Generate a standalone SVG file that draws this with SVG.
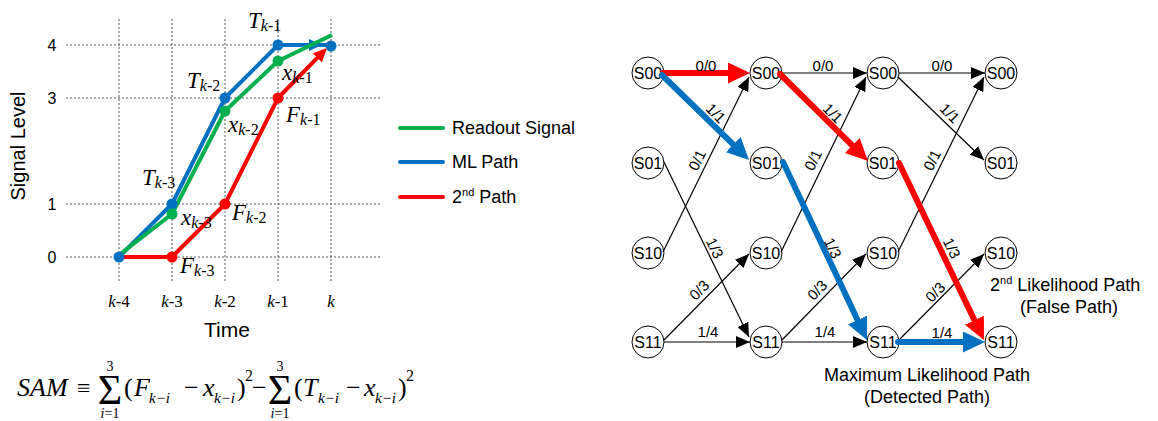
<svg xmlns="http://www.w3.org/2000/svg" width="1158" height="421" viewBox="0 0 1158 421">
<style>
.grid{stroke:#555;stroke-width:1;stroke-dasharray:2 2;fill:none}
.sans{font-family:"Liberation Sans",Arial,sans-serif;fill:#000}
.serif{font-family:"Liberation Serif","Times New Roman",serif;fill:#000}
.it{font-style:italic}
.node circle{fill:#fff;stroke:#000;stroke-width:1}
.node text{font-family:"Liberation Sans",Arial,sans-serif;font-size:16px;text-anchor:middle}
.thin{stroke:#000;stroke-width:1.2;fill:none;marker-end:url(#ah)}
.tr{stroke:#FF0000;stroke-width:6;fill:none;stroke-linecap:round;marker-end:url(#ahr)}
.tb{stroke:#0070C0;stroke-width:6;fill:none;stroke-linecap:round;marker-end:url(#ahb)}
.el{font-family:"Liberation Sans",Arial,sans-serif;font-size:15px;text-anchor:middle;dominant-baseline:central}
.gl{stroke:#00B050;stroke-width:4;fill:none;stroke-linejoin:round}
.bl{stroke:#0070C0;stroke-width:4;fill:none;stroke-linejoin:round}
.rl{stroke:#FF0000;stroke-width:4;fill:none;stroke-linejoin:round}
.sig{font-size:42px;text-anchor:middle}
.lim{font-size:14px;text-anchor:middle}
.m{font-size:26px}
.sb{font-size:15px;font-style:italic}
</style>
<defs>
<marker id="ah" markerUnits="userSpaceOnUse" markerWidth="14" markerHeight="12" refX="14" refY="6" orient="auto"><path d="M0,0 L14,6 L0,12 z" fill="#000"/></marker>
<marker id="ahr" markerUnits="userSpaceOnUse" markerWidth="22" markerHeight="21" refX="8" refY="10.5" orient="auto"><path d="M0,0 L22,10.5 L0,21 z" fill="#FF0000"/></marker>
<marker id="ahb" markerUnits="userSpaceOnUse" markerWidth="22" markerHeight="21" refX="8" refY="10.5" orient="auto"><path d="M0,0 L22,10.5 L0,21 z" fill="#0070C0"/></marker>
<marker id="ahc" markerUnits="userSpaceOnUse" markerWidth="14" markerHeight="13" refX="5" refY="6.5" orient="auto"><path d="M0,0 L14,6.5 L0,13 z" fill="#FF0000"/></marker>
</defs>
<rect width="1158" height="421" fill="#fff"/>

<g id="chart">
<g class="grid">
<path d="M119,19V283M172,19V283M225,19V283M278,19V283M331,19V283"/>
<path d="M66,45H381M66,98H381M66,204H381M66,257H381"/>
</g>
<g class="sans" font-size="16" text-anchor="middle">
<text x="52" y="51">4</text>
<text x="52" y="104">3</text>
<text x="52" y="210">1</text>
<text x="52" y="263">0</text>
</g>
<text class="sans" font-size="20" text-anchor="middle" transform="translate(25,146) rotate(-90)">Signal Level</text>
<text class="sans" font-size="21" text-anchor="middle" x="227" y="337">Time</text>
<g class="serif" font-size="17" text-anchor="middle">
<text x="119" y="307"><tspan class="it">k</tspan>-4</text>
<text x="172" y="307"><tspan class="it">k</tspan>-3</text>
<text x="225" y="307"><tspan class="it">k</tspan>-2</text>
<text x="278" y="307"><tspan class="it">k</tspan>-1</text>
<text x="331" y="307" class="it">k</text>
</g>
<path class="rl" d="M119,257 L172,257 L225,204 L278,98 L320.7,54.4" marker-end="url(#ahc)"/>
<path class="bl" d="M119,257 L172,204 L225,98 L278,45 L331,45"/>
<polygon points="322,45 309,39 309,51" fill="#0070C0"/>
<path class="gl" d="M119,255 L172,214 L225,111 L278,61 L332,35"/>
<g fill="#FF0000"><circle cx="172" cy="257" r="5.5"/><circle cx="225" cy="204" r="5.5"/><circle cx="278" cy="98" r="5.5"/></g>
<g fill="#0070C0"><circle cx="119" cy="257" r="5.5"/><circle cx="172" cy="204" r="5.5"/><circle cx="225" cy="98" r="5.5"/><circle cx="278" cy="45" r="5.5"/><circle cx="331" cy="46" r="5.5"/></g>
<g fill="#00B050"><circle cx="172" cy="214" r="5.5"/><circle cx="225" cy="111" r="5.5"/><circle cx="278" cy="61" r="5.5"/></g>
<g class="serif" font-size="23">
<text x="248" y="28"><tspan class="it">T</tspan><tspan font-size="16" dy="3"><tspan class="it">k</tspan>-1</tspan></text>
<text x="187" y="88"><tspan class="it">T</tspan><tspan font-size="16" dy="3"><tspan class="it">k</tspan>-2</tspan></text>
<text x="142" y="185"><tspan class="it">T</tspan><tspan font-size="16" dy="3"><tspan class="it">k</tspan>-3</tspan></text>
<text x="282" y="80"><tspan class="it">x</tspan><tspan font-size="16" dy="3"><tspan class="it">k</tspan>-1</tspan></text>
<text x="228" y="132"><tspan class="it">x</tspan><tspan font-size="16" dy="3"><tspan class="it">k</tspan>-2</tspan></text>
<text x="181" y="225"><tspan class="it">x</tspan><tspan font-size="16" dy="3"><tspan class="it">k</tspan>-3</tspan></text>
<text x="286" y="122"><tspan class="it">F</tspan><tspan font-size="16" dy="3"><tspan class="it">k</tspan>-1</tspan></text>
<text x="232" y="220"><tspan class="it">F</tspan><tspan font-size="16" dy="3"><tspan class="it">k</tspan>-2</tspan></text>
<text x="180" y="273"><tspan class="it">F</tspan><tspan font-size="16" dy="3"><tspan class="it">k</tspan>-3</tspan></text>
</g>
</g>

<g id="legend">
<path d="M400,128H443" stroke="#00B050" stroke-width="4" stroke-linecap="round"/>
<path d="M400,162H443" stroke="#0070C0" stroke-width="4" stroke-linecap="round"/>
<path d="M400,197H443" stroke="#FF0000" stroke-width="4" stroke-linecap="round"/>
<g class="sans" font-size="18">
<text x="452" y="134">Readout Signal</text>
<text x="452" y="168">ML Path</text>
<text x="452" y="203">2<tspan font-size="11" dy="-7">nd</tspan><tspan dy="7"> Path</tspan></text>
</g>
</g>

<g id="formula" class="serif">
<text x="17" y="396" class="m it">SAM</text>
<text x="77" y="396" font-size="24">≡</text>
<text x="110" y="404" class="sig">Σ</text>
<text x="110" y="371" class="lim">3</text>
<text x="110" y="418" class="lim"><tspan class="it">i</tspan>=1</text>
<text x="124" y="396" class="m">(</text>
<text x="134" y="396" class="m it">F</text>
<text x="149" y="403" class="sb">k−i</text>
<text x="184" y="396" class="m">−</text>
<text x="203" y="396" class="m it">x</text>
<text x="214" y="403" class="sb">k−i</text>
<text x="237" y="396" class="m">)</text>
<text x="245" y="381" font-size="16">2</text>
<text x="252" y="396" class="m">−</text>
<text x="280" y="404" class="sig">Σ</text>
<text x="280" y="371" class="lim">3</text>
<text x="280" y="418" class="lim"><tspan class="it">i</tspan>=1</text>
<text x="294" y="396" class="m">(</text>
<text x="303" y="396" class="m it">T</text>
<text x="318" y="403" class="sb">k−i</text>
<text x="346" y="396" class="m">−</text>
<text x="364" y="396" class="m it">x</text>
<text x="375" y="403" class="sb">k−i</text>
<text x="398" y="396" class="m">)</text>
<text x="406" y="381" font-size="16">2</text>
</g>

<g id="nodes">
<g id="n0-00" class="node"><circle cx="648" cy="73" r="16"/><text x="648" y="79">S00</text></g>
<g id="n0-01" class="node"><circle cx="648" cy="163" r="16"/><text x="648" y="169">S01</text></g>
<g id="n0-10" class="node"><circle cx="648" cy="253" r="16"/><text x="648" y="259">S10</text></g>
<g id="n0-11" class="node"><circle cx="648" cy="342" r="16"/><text x="648" y="348">S11</text></g>
<g id="n1-00" class="node"><circle cx="766" cy="73" r="16"/><text x="766" y="79">S00</text></g>
<g id="n1-01" class="node"><circle cx="766" cy="163" r="16"/><text x="766" y="169">S01</text></g>
<g id="n1-10" class="node"><circle cx="766" cy="253" r="16"/><text x="766" y="259">S10</text></g>
<g id="n1-11" class="node"><circle cx="766" cy="342" r="16"/><text x="766" y="348">S11</text></g>
<g id="n2-00" class="node"><circle cx="883" cy="73" r="16"/><text x="883" y="79">S00</text></g>
<g id="n2-01" class="node"><circle cx="883" cy="163" r="16"/><text x="883" y="169">S01</text></g>
<g id="n2-10" class="node"><circle cx="883" cy="253" r="16"/><text x="883" y="259">S10</text></g>
<g id="n2-11" class="node"><circle cx="883" cy="342" r="16"/><text x="883" y="348">S11</text></g>
<g id="n3-00" class="node"><circle cx="1001" cy="73" r="16"/><text x="1001" y="79">S00</text></g>
<g id="n3-01" class="node"><circle cx="1001" cy="163" r="16"/><text x="1001" y="169">S01</text></g>
<g id="n3-10" class="node"><circle cx="1001" cy="253" r="16"/><text x="1001" y="259">S10</text></g>
<g id="n3-11" class="node"><circle cx="1001" cy="342" r="16"/><text x="1001" y="348">S11</text></g>
</g>

<g id="connectors">
<path class="thin" d="M663,252 L749,77"/>
<path class="thin" d="M664,162 L749,337"/>
<path class="thin" d="M664,340 L749,254"/>
<path class="thin" d="M664,342 L750,342"/>
<path class="thin" d="M782,73 L867,73"/>
<path class="thin" d="M781,252 L866,77"/>
<path class="thin" d="M782,340 L866,254"/>
<path class="thin" d="M782,342 L867,342"/>
<path class="thin" d="M899,73 L985,73"/>
<path class="thin" d="M898,77 L984,160"/>
<path class="thin" d="M898,252 L984,77"/>
<path class="thin" d="M899,340 L984,254"/>
<path class="tr" d="M663,73 L736,73"/>
<path class="tb" d="M662,75 L739,150.2"/>
<path class="tr" d="M780,74 L858,151.2"/>
<path class="tb" d="M783,162 L861,327.3"/>
<path class="tr" d="M899,163 L977.9,327.4"/>
<path class="tb" d="M898,342 L971,342"/>
<g class="el">
<text transform="translate(706,65)">0/0</text>
<text transform="translate(716,113) rotate(45)">1/1</text>
<text transform="translate(697,160) rotate(-64)">0/1</text>
<text transform="translate(715,248) rotate(64)">1/3</text>
<text transform="translate(699,290) rotate(-46)">0/3</text>
<text transform="translate(708,331)">1/4</text>
<text transform="translate(823,65)">0/0</text>
<text transform="translate(833,113) rotate(45)">1/1</text>
<text transform="translate(813,160) rotate(-64)">0/1</text>
<text transform="translate(833,248) rotate(64)">1/3</text>
<text transform="translate(817,290) rotate(-46)">0/3</text>
<text transform="translate(825,331)">1/4</text>
<text transform="translate(942,65)">0/0</text>
<text transform="translate(950,113) rotate(45)">1/1</text>
<text transform="translate(932,160) rotate(-64)">0/1</text>
<text transform="translate(952,248) rotate(64)">1/3</text>
<text transform="translate(935,292) rotate(-46)">0/3</text>
<text transform="translate(942,332)">1/4</text>
</g>
</g>

<g id="annotations" class="sans" font-size="18">
<text x="990" y="291">2<tspan font-size="11" dy="-7">nd</tspan><tspan dy="7"> Likelihood Path</tspan></text>
<text x="1069" y="313" text-anchor="middle">(False Path)</text>
<text x="927" y="381" text-anchor="middle">Maximum Likelihood Path</text>
<text x="927" y="403" text-anchor="middle">(Detected Path)</text>
</g>
</svg>
